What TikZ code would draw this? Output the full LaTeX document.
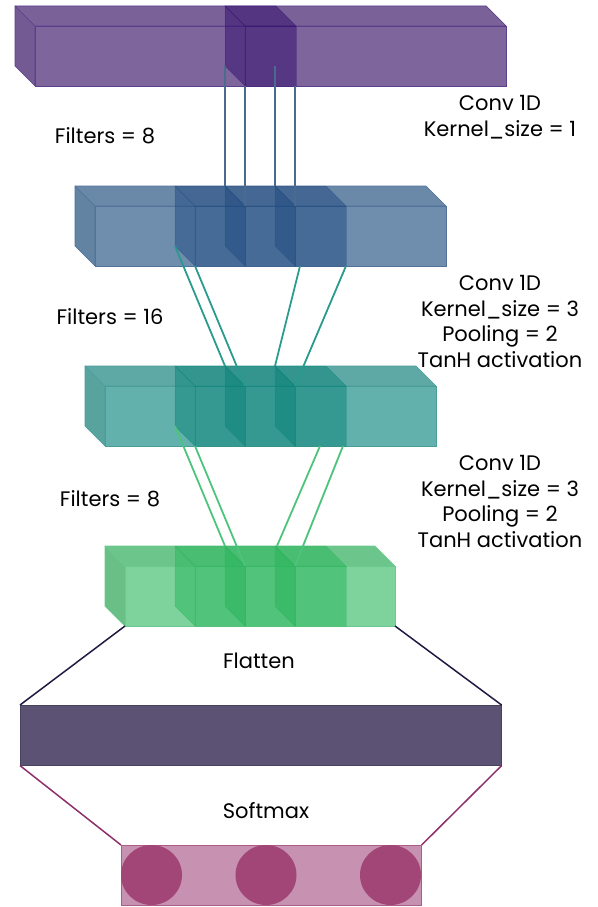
\documentclass[tikz,border=0pt]{standalone}
\usepackage{fontspec}
\setmainfont{Poppins}
\usetikzlibrary{shapes.geometric}
\definecolor{pF}{HTML}{7E669D}\definecolor{pT}{HTML}{7A6299}\definecolor{pL}{HTML}{735A93}\definecolor{pE}{HTML}{5B3F8C}\definecolor{pO}{HTML}{2E0A6A}
\definecolor{bF}{HTML}{6F8DAD}\definecolor{bT}{HTML}{6A88A8}\definecolor{bL}{HTML}{6383A3}\definecolor{bE}{HTML}{52729A}\definecolor{bO}{HTML}{1F4A80}
\definecolor{tF}{HTML}{62B1AD}\definecolor{tT}{HTML}{5EA9A5}\definecolor{tL}{HTML}{59A39F}\definecolor{tE}{HTML}{4A9E99}\definecolor{tO}{HTML}{0A8378}
\definecolor{gF}{HTML}{7DD39B}\definecolor{gT}{HTML}{6CC68B}\definecolor{gL}{HTML}{6ABF87}\definecolor{gE}{HTML}{6CC98E}\definecolor{gO}{HTML}{27B55A}
\definecolor{lineB}{HTML}{4A6A8E}\definecolor{lineT}{HTML}{2A9A8C}\definecolor{lineG}{HTML}{4CC47C}
\definecolor{lineN}{HTML}{1E1A42}\definecolor{lineM}{HTML}{8E2F6A}
\definecolor{flatC}{HTML}{5B5274}\definecolor{softC}{HTML}{C791B2}\definecolor{circC}{HTML}{A24577}
% #1 x, #2 y (front top-left), #3 width, #4 height, #5 front, #6 top, #7 left, #8 edge
\newcommand\blockbox[8]{%
  \filldraw[fill=#7,draw=#8,line width=0.7pt,line join=round] (#1,#2) -- ++(-20,-20) -- ++(0,#4) -- ++(20,20) -- cycle;
  \filldraw[fill=#6,draw=#8,line width=0.7pt,line join=round] (#1,#2) -- ++(-20,-20) -- ++(#3,0) -- ++(20,20) -- cycle;
  \filldraw[fill=#5,draw=#8,line width=0.7pt] (#1,#2) rectangle ++(#3,#4);
}
% #1 x, #2 y, #3 w, #4 h, #5 overlay colour
\newcommand\kcube[5]{%
  \begin{scope}[fill=#5,fill opacity=0.5,draw=#5,draw opacity=0.35,line width=0.5pt]
  \filldraw (#1,#2) -- ++(-20,-20) -- ++(0,#4) -- ++(20,20) -- cycle;
  \filldraw (#1,#2) -- ++(-20,-20) -- ++(#3,0) -- ++(20,20) -- cycle;
  \filldraw (#1,#2) rectangle ++(#3,#4);
  \end{scope}
}
\tikzset{
  lbl/.style={font=\fontsize{21}{25.7}\selectfont, align=center, inner sep=0pt},
  conn/.style={line width=1.8pt},
  outc/.style={ellipse,fill=circC,minimum width=61pt,minimum height=60pt,inner sep=0pt},
}
\begin{document}
\begin{tikzpicture}[x=1pt,y=-1pt]
\useasboundingbox (0,0) rectangle (597,907);
% top block
\blockbox{35}{26}{471}{60}{pF}{pT}{pL}{pE}
\kcube{245}{26}{51}{60}{pO}
% blue block
\blockbox{95}{206}{351}{60}{bF}{bT}{bL}{bE}
\kcube{195}{206}{50}{60}{bO}
\kcube{245}{206}{50}{60}{bO}
\kcube{295}{206}{51}{60}{bO}
% teal block
\blockbox{105}{386}{331}{60}{tF}{tT}{tL}{tE}
\kcube{195}{386}{50}{60}{tO}
\kcube{245}{386}{50}{60}{tO}
\kcube{295}{386}{51}{60}{tO}
% green block
\blockbox{125}{566}{270}{60}{gF}{gT}{gL}{gE}
\kcube{195}{566}{50}{60}{gO}
\kcube{245}{566}{50}{60}{gO}
\kcube{295}{566}{51}{60}{gO}
% connector end points
\coordinate (a1) at (225,66); \coordinate (a2) at (245,86); \coordinate (a3) at (275,66); \coordinate (a4) at (295,86);
\coordinate (b1) at (225,186); \coordinate (b2) at (245,206); \coordinate (b3) at (275,186); \coordinate (b4) at (295,206);
\coordinate (c1) at (175,246); \coordinate (c2) at (195,266); \coordinate (c3) at (300,266); \coordinate (c4) at (346,266);
\coordinate (d1) at (225,366); \coordinate (d2) at (245,386); \coordinate (d3) at (275,366); \coordinate (d4) at (295,386);
\coordinate (e1) at (175,426); \coordinate (e2) at (195,446); \coordinate (e3) at (320,446); \coordinate (e4) at (343,446);
\coordinate (f1) at (225,546); \coordinate (f2) at (245,566); \coordinate (f3) at (277,546); \coordinate (f4) at (295,566);
\draw[conn,lineB] (a1) -- (b1); \draw[conn,lineB] (a2) -- (b2); \draw[conn,lineB] (a3) -- (b3); \draw[conn,lineB] (a4) -- (b4);
\draw[conn,lineT] (c1) -- (d1); \draw[conn,lineT] (c2) -- (d2); \draw[conn,lineT] (c3) -- (d3); \draw[conn,lineT] (c4) -- (d4);
\draw[conn,lineG] (e1) -- (f1); \draw[conn,lineG] (e2) -- (f2); \draw[conn,lineG] (e3) -- (f3); \draw[conn,lineG] (e4) -- (f4);
% flatten layer
\coordinate (gl) at (125,626); \coordinate (gr) at (395,626);
\node[draw=flatC!80!black,fill=flatC,minimum width=481pt,minimum height=60pt,inner sep=0pt,anchor=north west,line width=0.6pt] (flat) at (20,705) {};
\draw[conn,lineN,line width=1.5pt] (gl) -- (flat.north west);
\draw[conn,lineN,line width=1.5pt] (gr) -- (flat.north east);
% softmax layer
\node[draw=circC!70!softC,fill=softC,minimum width=300pt,minimum height=60pt,inner sep=0pt,anchor=north west,line width=0.6pt] (soft) at (121,845) {};
\draw[conn,lineM,line width=1.5pt] (flat.south west) -- (soft.north west);
\draw[conn,lineM,line width=1.5pt] (flat.south east) -- (soft.north east);
\node[outc] (o1) at (151.5,875) {};
\node[outc] (o2) at (266,875) {};
\node[outc] (o3) at (390.5,875) {};
% labels
\node[lbl] (f8a) at (105,136) {Filters = 8};
\node[lbl] (cv1) at (500,117) {Conv 1D\\Kernel\_size = 1};
\node[lbl] (f16) at (110,317) {Filters = 16};
\node[lbl] (cv2) at (500,321.5) {Conv 1D\\Kernel\_size = 3\\Pooling = 2\\TanH activation};
\node[lbl] (f8b) at (110,499) {Filters = 8};
\node[lbl] (cv3) at (500,501.5) {Conv 1D\\Kernel\_size = 3\\Pooling = 2\\TanH activation};
\node[lbl] (flt) at (259,661) {Flatten};
\node[lbl] (smx) at (266,811) {Softmax};
\end{tikzpicture}
\end{document}
